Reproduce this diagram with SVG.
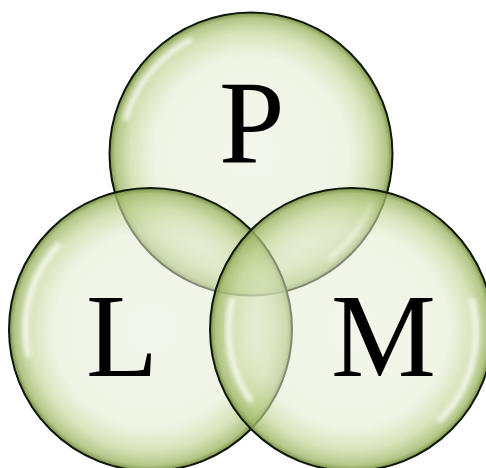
<svg xmlns="http://www.w3.org/2000/svg" width="486" height="468" viewBox="0 0 486 468">
  <defs>
    <radialGradient id="bub" cx="0.5" cy="0.5" r="0.5">
      <stop offset="0" stop-color="#e8efd9" stop-opacity="0.5"/>
      <stop offset="0.68" stop-color="#e3ebd0" stop-opacity="0.55"/>
      <stop offset="0.85" stop-color="#c4d596" stop-opacity="0.65"/>
      <stop offset="0.96" stop-color="#a0b86a" stop-opacity="0.8"/>
      <stop offset="1" stop-color="#6f8a3a" stop-opacity="0.95"/>
    </radialGradient>
    <filter id="blur" x="-20%" y="-20%" width="140%" height="140%">
      <feGaussianBlur stdDeviation="2.5"/>
    </filter>
    <style>
      .bubble { fill: url(#bub); stroke: #10170a; stroke-width: 2; }
      .hl { fill: none; stroke: #ffffff; stroke-width: 5; stroke-linecap: round; opacity: 0.9; filter: url(#blur); }
      .lbl { font-family: "Liberation Serif", "Times New Roman", serif; font-size: 118px; fill: #000; }
    </style>
  </defs>
  <rect width="486" height="468" fill="#ffffff"/>
  <g id="node-P">
    <circle class="bubble" cx="251" cy="154" r="141.5"/>
    <path class="hl" d="M 126 118 A 130 130 0 0 1 190 40"/>
    <path class="hl" d="M 330 258 A 130 130 0 0 0 372 200"/>
    <text class="lbl" x="219" y="163">P</text>
  </g>
  <g id="node-L">
    <circle class="bubble" cx="150.5" cy="329.5" r="141.5"/>
    <path class="hl" d="M 28 355 A 125 125 0 0 1 58 245"/>
    <text class="lbl" x="86" y="376">L</text>
  </g>
  <g id="node-M">
    <circle class="bubble" cx="351.5" cy="329.5" r="141.5"/>
    <path class="hl" d="M 472 300 A 125 125 0 0 1 440 420"/>
    <path class="hl" d="M 232 300 A 125 125 0 0 0 250 400"/>
    <text class="lbl" x="331" y="376">M</text>
  </g>
  <g id="connectors"/>
</svg>
